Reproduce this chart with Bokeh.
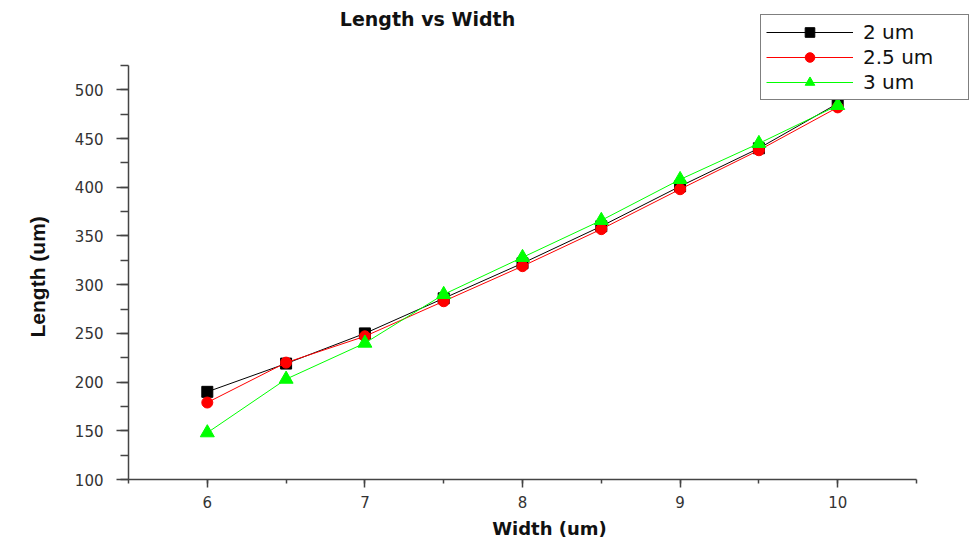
from bokeh.plotting import figure
from bokeh.models import SingleIntervalTicker, Range1d, Label, Title
from bokeh.embed import file_html
from bokeh.resources import INLINE

widths = [6, 6.5, 7, 7.5, 8, 8.5, 9, 9.5, 10]
len_2um = [190, 219, 250, 286, 322, 360, 401, 440, 486]
len_25um = [179, 220, 247, 283, 319, 357, 398, 438, 482]
len_3um = [148, 203, 240, 290, 328, 366, 408, 445, 484]
series_labels = ["2 um", "2.5 um", "3 um"]
title_text = "Length vs Width"
x_label = "Width (um)"
y_label = "Length (um)"

x_axis_bounds = (5.5, 10.5)
y_axis_bounds = (100, 525)

W, H = 970, 541
left, bottom = 128, 479
px_per_x = (916 - 128) / 5.0
px_per_y = (479 - 65) / 425.0
x_end = 10.5 + (W - 916) / px_per_x
y_end = 525 + 65 / px_per_y

p = figure(width=W, height=H, output_backend="svg", toolbar_location=None,
           x_range=Range1d(5.5, x_end), y_range=Range1d(100, y_end),
           min_border_left=left, min_border_right=0, min_border_top=0,
           min_border_bottom=H - bottom)
p.outline_line_color = None
p.grid.visible = False
p.background_fill_color = "white"

series = [
    (len_2um, "black", "square", 11),
    (len_25um, "#ff0000", "circle", 11),
    (len_3um, "#00ff00", "triangle", 14),
]
for (vals, col, mk, sz), lab in zip(series, series_labels):
    p.line(widths, vals, line_color=col, line_width=1, legend_label=lab)
    p.scatter(widths, vals, marker=mk, size=sz, fill_color=col, line_color=col, legend_label=lab)

p.xaxis.ticker = SingleIntervalTicker(interval=1, num_minor_ticks=2)
p.yaxis.ticker = SingleIntervalTicker(interval=50, num_minor_ticks=2)
p.xaxis.bounds = x_axis_bounds
p.yaxis.bounds = y_axis_bounds

for ax in (p.xaxis[0], p.yaxis[0]):
    ax.axis_line_color = "#444444"
    ax.axis_line_width = 1.5
    ax.major_tick_line_color = "#444444"
    ax.minor_tick_line_color = "#444444"
    ax.major_tick_line_width = 1.5
    ax.minor_tick_line_width = 1.5
    ax.major_tick_in = 0
    ax.minor_tick_in = 0
    ax.major_label_text_font = "DejaVu Sans"
    ax.major_label_text_font_size = "15px"
    ax.major_label_text_color = "#333333"
    ax.axis_label_text_font_style = "bold"
    ax.axis_label_text_color = "#111111"

p.xaxis.major_tick_out = 8
p.xaxis.minor_tick_out = 4
p.xaxis.major_label_standoff = 8
p.xaxis.axis_label = x_label
p.xaxis.axis_label_text_font = "DejaVu Sans"
p.xaxis.axis_label_text_font_size = "18px"
p.xaxis.axis_label_standoff = 7

p.yaxis.major_tick_out = 12
p.yaxis.minor_tick_out = 8
p.yaxis.major_label_standoff = 13

ytitle = Title(text=y_label, align="left", offset=bottom - 337, standoff=45,
               text_font="Liberation Sans", text_font_size="21px", text_font_style="bold",
               text_color="#111111")
p.add_layout(ytitle, "left")

leg = p.legend[0]
leg.location = (760 - left, bottom - 100)
leg.border_line_color = "black"
leg.border_line_width = 1.5
leg.background_fill_alpha = 1
leg.padding = 5
leg.margin = 0
leg.spacing = 1
leg.glyph_width = 87
leg.glyph_height = 24
leg.label_height = 24
leg.label_width = 100
leg.label_standoff = 10
leg.label_text_font = "DejaVu Sans"
leg.label_text_font_size = "20px"
leg.label_text_color = "#111111"

t = Label(x=427 - left, y=bottom - 18, x_units="screen", y_units="screen", text=title_text,
          text_font="DejaVu Sans", text_font_size="19px", text_font_style="bold",
          text_align="center", text_baseline="middle", text_color="#111111")
p.add_layout(t)

open("out.html", "w").write(file_html(p, INLINE))
